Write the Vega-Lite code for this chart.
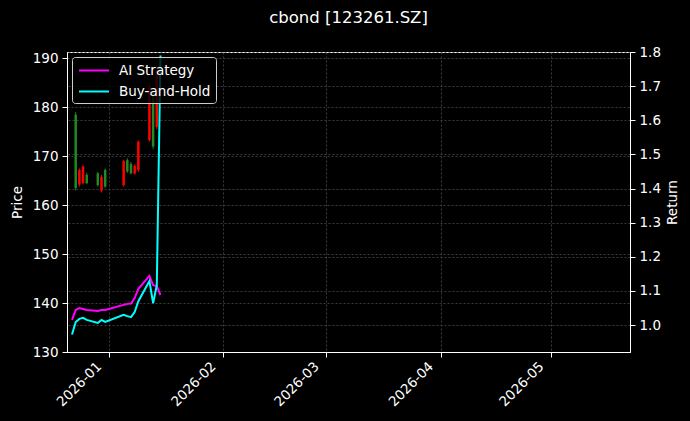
{
  "$schema": "https://vega.github.io/schema/vega-lite/v6.json",
  "width": 563,
  "height": 300,
  "autosize": {"type": "none"},
  "padding": {"left": 67, "top": 52, "right": 60, "bottom": 69},
  "background": "#000000",
  "title": {"text": "cbond [123261.SZ]", "fontSize": 16.5, "fontWeight": "normal", "color": "#ffffff", "offset": 19, "anchor": "middle"},
  "datasets": {
    "candles": [
      {"date": "2025-12-23", "open": 178.5, "close": 163.5, "high": 179.0, "low": 163.0},
      {"date": "2025-12-24", "open": 164.2, "close": 167.2, "high": 167.5, "low": 163.8},
      {"date": "2025-12-25", "open": 164.5, "close": 167.9, "high": 168.2, "low": 164.3},
      {"date": "2025-12-26", "open": 166.2, "close": 164.5, "high": 166.6, "low": 164.3},
      {"date": "2025-12-29", "open": 166.5, "close": 164.1, "high": 166.8, "low": 163.8},
      {"date": "2025-12-30", "open": 163.0, "close": 165.8, "high": 166.2, "low": 162.6},
      {"date": "2025-12-31", "open": 167.2, "close": 163.8, "high": 167.5, "low": 163.5},
      {"date": "2026-01-05", "open": 164.1, "close": 169.0, "high": 169.3, "low": 163.8},
      {"date": "2026-01-06", "open": 169.2, "close": 166.9, "high": 169.6, "low": 166.6},
      {"date": "2026-01-07", "open": 168.4, "close": 166.5, "high": 168.8, "low": 166.3},
      {"date": "2026-01-08", "open": 166.5, "close": 168.0, "high": 168.3, "low": 166.2},
      {"date": "2026-01-09", "open": 167.2, "close": 173.0, "high": 173.2, "low": 166.8},
      {"date": "2026-01-12", "open": 173.3, "close": 184.0, "high": 185.0, "low": 173.0},
      {"date": "2026-01-13", "open": 183.0, "close": 172.0, "high": 184.0, "low": 171.5},
      {"date": "2026-01-14", "open": 176.0, "close": 187.5, "high": 188.5, "low": 175.5}
    ],
    "returns": [
      {"date": "2025-12-22", "series": "AI Strategy", "ret": 1.015},
      {"date": "2025-12-23", "series": "AI Strategy", "ret": 1.044},
      {"date": "2025-12-24", "series": "AI Strategy", "ret": 1.050},
      {"date": "2025-12-25", "series": "AI Strategy", "ret": 1.047},
      {"date": "2025-12-26", "series": "AI Strategy", "ret": 1.044},
      {"date": "2025-12-29", "series": "AI Strategy", "ret": 1.041},
      {"date": "2025-12-30", "series": "AI Strategy", "ret": 1.044},
      {"date": "2025-12-31", "series": "AI Strategy", "ret": 1.044},
      {"date": "2026-01-05", "series": "AI Strategy", "ret": 1.059},
      {"date": "2026-01-06", "series": "AI Strategy", "ret": 1.062},
      {"date": "2026-01-07", "series": "AI Strategy", "ret": 1.063},
      {"date": "2026-01-08", "series": "AI Strategy", "ret": 1.079},
      {"date": "2026-01-09", "series": "AI Strategy", "ret": 1.106},
      {"date": "2026-01-12", "series": "AI Strategy", "ret": 1.144},
      {"date": "2026-01-13", "series": "AI Strategy", "ret": 1.117},
      {"date": "2026-01-14", "series": "AI Strategy", "ret": 1.114},
      {"date": "2026-01-15", "series": "AI Strategy", "ret": 1.088},
      {"date": "2025-12-22", "series": "Buy-and-Hold", "ret": 0.972},
      {"date": "2025-12-23", "series": "Buy-and-Hold", "ret": 1.009},
      {"date": "2025-12-24", "series": "Buy-and-Hold", "ret": 1.018},
      {"date": "2025-12-25", "series": "Buy-and-Hold", "ret": 1.021},
      {"date": "2025-12-26", "series": "Buy-and-Hold", "ret": 1.015},
      {"date": "2025-12-29", "series": "Buy-and-Hold", "ret": 1.006},
      {"date": "2025-12-30", "series": "Buy-and-Hold", "ret": 1.015},
      {"date": "2025-12-31", "series": "Buy-and-Hold", "ret": 1.009},
      {"date": "2026-01-05", "series": "Buy-and-Hold", "ret": 1.030},
      {"date": "2026-01-06", "series": "Buy-and-Hold", "ret": 1.026},
      {"date": "2026-01-07", "series": "Buy-and-Hold", "ret": 1.023},
      {"date": "2026-01-08", "series": "Buy-and-Hold", "ret": 1.038},
      {"date": "2026-01-09", "series": "Buy-and-Hold", "ret": 1.070},
      {"date": "2026-01-12", "series": "Buy-and-Hold", "ret": 1.129},
      {"date": "2026-01-13", "series": "Buy-and-Hold", "ret": 1.064},
      {"date": "2026-01-14", "series": "Buy-and-Hold", "ret": 1.117},
      {"date": "2026-01-15", "series": "Buy-and-Hold", "ret": 1.79}
    ]
  },
  "layer": [
    {
      "data": {"name": "candles"},
      "layer": [
        {
          "mark": {"type": "rule", "strokeWidth": 1},
          "encoding": {
            "x": {
              "field": "date", "type": "temporal",
              "scale": {"type": "utc", "domain": [{"year": 2025, "month": 12, "date": 22, "utc": true}, {"year": 2026, "month": 5, "date": 21, "utc": true}]},
              "axis": {"title": null, "format": "%Y-%m", "tickCount": {"interval": "month", "step": 1}, "labelAngle": -45, "labelAlign": "right", "labelBaseline": "bottom", "labelPadding": 12, "labelOffset": -5, "grid": true}
            },
            "y": {
              "field": "low", "type": "quantitative",
              "scale": {"domain": [130, 191.3], "nice": false, "zero": false},
              "axis": {"title": "Price", "orient": "left", "values": [130, 140, 150, 160, 170, 180, 190], "grid": true, "titlePadding": 8}
            },
            "y2": {"field": "high"},
            "color": {"condition": {"test": "datum.close >= datum.open", "value": "#ff0000"}, "value": "#1e8c1e"}
          }
        },
        {
          "mark": {"type": "bar", "size": 2.5},
          "encoding": {
            "x": {"field": "date", "type": "temporal"},
            "y": {"field": "open", "type": "quantitative"},
            "y2": {"field": "close"},
            "color": {"condition": {"test": "datum.close >= datum.open", "value": "#ff0000"}, "value": "#1e8c1e"}
          }
        }
      ]
    },
    {
      "data": {"name": "returns"},
      "mark": {"type": "line", "strokeWidth": 2, "clip": true},
      "encoding": {
        "x": {"field": "date", "type": "temporal"},
        "y": {
          "field": "ret", "type": "quantitative",
          "scale": {"domain": [0.921, 1.8], "nice": false, "zero": false},
          "axis": {"title": "Return", "orient": "right", "titleAngle": -90, "titleX": 42, "titleY": 150, "titleAlign": "center", "titleBaseline": "middle", "values": [1.0, 1.1, 1.2, 1.3, 1.4, 1.5, 1.6, 1.7, 1.8], "format": ".1f", "grid": true}
        },
        "color": {
          "field": "series", "type": "nominal",
          "scale": {"domain": ["AI Strategy", "Buy-and-Hold"], "range": ["#ff00ff", "#00ffff"]},
          "legend": {"title": null, "orient": "none", "legendX": 5, "legendY": 5}
        }
      }
    }
  ],
  "resolve": {"scale": {"y": "independent"}},
  "config": {
    "font": "DejaVu Sans",
    "view": {"stroke": "#ffffff", "strokeWidth": 1},
    "axis": {
      "domainColor": "#ffffff", "tickColor": "#ffffff", "labelColor": "#ffffff", "titleColor": "#ffffff",
      "labelFontSize": 13.5, "titleFontSize": 13.5, "titleFontWeight": "normal",
      "gridColor": "#4a4a4a", "gridDash": [2, 2], "gridWidth": 0.8, "tickSize": 5, "labelPadding": 4, "domainWidth": 1
    },
    "legend": {
      "fillColor": "rgba(0,0,0,0.8)", "strokeColor": "#cccccc", "cornerRadius": 3, "padding": 5,
      "symbolType": "M-2,0H2", "symbolStrokeWidth": 2, "symbolSize": 225, "symbolOffset": 8.5,
      "labelFontSize": 13.5, "labelColor": "#ffffff", "rowPadding": 6, "labelOffset": 16.5
    }
  }
}
